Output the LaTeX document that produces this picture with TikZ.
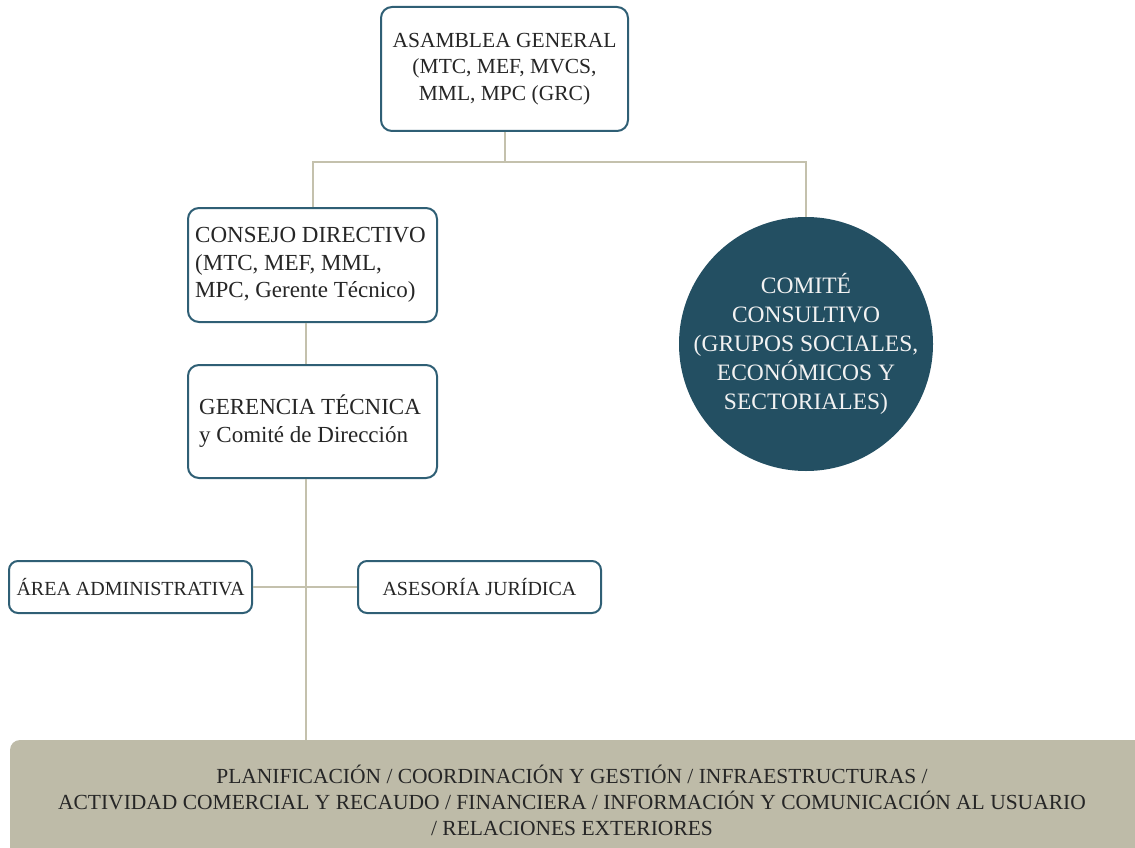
\documentclass[tikz,border=0pt]{standalone}
\usepackage{fontspec}
\setmainfont{Liberation Serif}
\begin{document}
\begin{tikzpicture}[x=1pt,y=-1pt,
  box/.style={draw=boxcol, line width=2pt, rounded corners=11pt, fill=white, inner sep=0pt, text=black!85},
  txt/.style={inner sep=0pt, text=black!85},
  conn/.style={draw=linecol, line width=2pt}]
\definecolor{boxcol}{HTML}{2F5F75}
\definecolor{linecol}{HTML}{C4C1AD}
\definecolor{circcol}{HTML}{234F62}
\definecolor{barcol}{HTML}{BEBBA8}
\useasboundingbox (0,0) rectangle (1135,848);
% nodes
\node[box, minimum width=247pt, minimum height=124pt, align=center, font=\fontsize{21.5}{26.5}\selectfont] (ag) at (504.5,69) {ASAMBLEA GENERAL\\(MTC, MEF, MVCS,\\MML, MPC (GRC)};
\node[box, minimum width=249pt, minimum height=114pt] (cd) at (312.5,265) {};
\node[txt, anchor=west, align=left, font=\fontsize{23}{27.5}\selectfont] (cdt) at ([xshift=8pt]cd.west) {CONSEJO DIRECTIVO\\(MTC, MEF, MML,\\MPC, Gerente Técnico)};
\node[box, minimum width=249pt, minimum height=113pt] (gt) at (312.5,421.5) {};
\node[txt, anchor=west, align=left, font=\fontsize{23}{28}\selectfont] (gtt) at ([xshift=12pt]gt.west) {GERENCIA TÉCNICA\\y Comité de Dirección};
\node[box, minimum width=243pt, minimum height=52pt, rounded corners=9pt, font=\fontsize{20}{24}\selectfont] (aa) at (130.5,587) {ÁREA ADMINISTRATIVA};
\node[box, minimum width=243pt, minimum height=52pt, rounded corners=9pt, font=\fontsize{20}{24}\selectfont] (aj) at (479.5,587) {ASESORÍA JURÍDICA};
\node[circle, fill=circcol, minimum size=254pt, inner sep=0pt] (cc) at (806,344) {};
\node[txt, text=white!95!black, align=center, font=\fontsize{23.5}{29}\selectfont] (cct) at (cc.center) {COMITÉ\\CONSULTIVO\\(GRUPOS SOCIALES,\\ECONÓMICOS Y\\SECTORIALES)};
\fill[barcol, rounded corners=10pt] (10,740) rectangle (1150,870);
\node[align=center, font=\fontsize{21.5}{26}\selectfont, text=black!85] (bar) at (572,800) {PLANIFICACIÓN / COORDINACIÓN Y GESTIÓN / INFRAESTRUCTURAS /\\ACTIVIDAD COMERCIAL Y RECAUDO / FINANCIERA / INFORMACIÓN Y COMUNICACIÓN AL USUARIO\\/ RELACIONES EXTERIORES};
\coordinate (bartop) at (306,740);
\coordinate (hub) at (504.5,162);
% connectors
\draw[conn] (ag.south) -- (hub);
\draw[conn] (cd.north -| 313,0) |- (hub) -| (cc.north);
\draw[conn] (cd.south -| 306,0) -- (gt.north -| 306,0);
\draw[conn] (gt.south -| 306,0) -- (bartop);
\draw[conn] (aa.east) -- (aj.west);
\end{tikzpicture}
\end{document}
